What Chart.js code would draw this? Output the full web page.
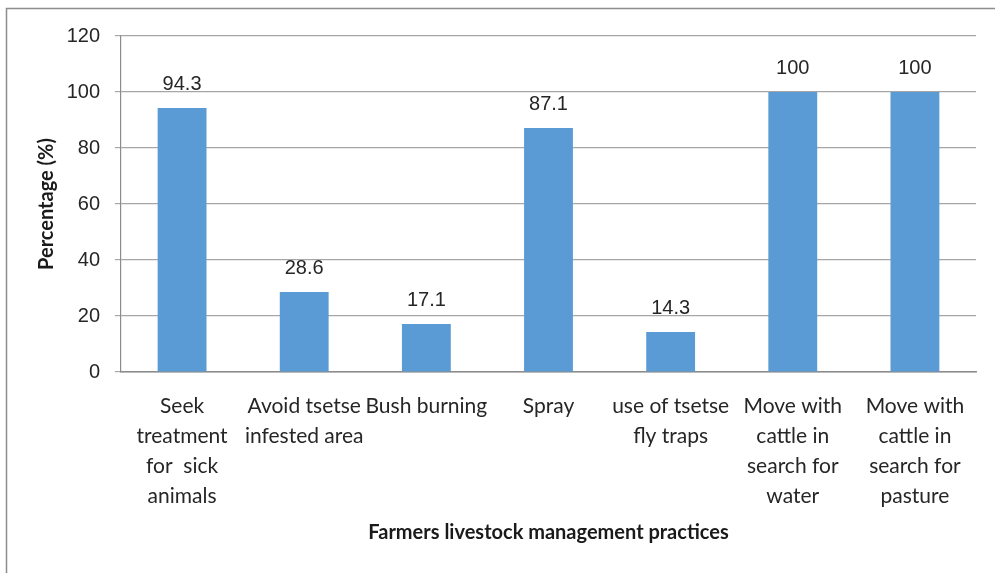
<!DOCTYPE html>
<html lang="en">
<head>
  <meta charset="UTF-8">
  <title>Farmers livestock management practices</title>
  <script src="https://cdn.jsdelivr.net/npm/chart.js"></script>
  <style>
    body { margin: 0; background: #fff; }
    #chart { display: block; }
  </style>
</head>
<body>
  <canvas id="chart" width="995" height="573"></canvas>
  <script>
    const practices = [
      ['Seek', 'treatment', 'for  sick', 'animals'],
      ['Avoid tsetse', 'infested area'],
      ['Bush burning'],
      ['Spray'],
      ['use of tsetse', 'fly traps'],
      ['Move with', 'cattle in', 'search for', 'water'],
      ['Move with', 'cattle in', 'search for', 'pasture']
    ];
    const percentages = [94.3, 28.6, 17.1, 87.1, 14.3, 100, 100];
    const yTicks = [0, 20, 40, 60, 80, 100, 120];

    // outer frame (top + left edge only, like the source image)
    const framePlugin = {
      id: 'frame',
      beforeDraw(chart) {
        const ctx = chart.ctx;
        ctx.save();
        ctx.strokeStyle = '#8c8c8c';
        ctx.lineWidth = 1.5;
        ctx.beginPath();
        ctx.moveTo(6.5, 573);
        ctx.lineTo(6.5, 8.5);
        ctx.lineTo(995, 8.5);
        ctx.stroke();
        ctx.restore();
      }
    };

    // value labels above bars
    const valueLabels = {
      id: 'valueLabels',
      afterDatasetsDraw(chart) {
        const ctx = chart.ctx;
        const meta = chart.getDatasetMeta(0);
        ctx.save();
        ctx.font = '20px "Liberation Sans", Arial, sans-serif';
        ctx.fillStyle = '#262626';
        ctx.textAlign = 'center';
        ctx.textBaseline = 'alphabetic';
        meta.data.forEach((bar, i) => {
          ctx.fillText(String(percentages[i]), bar.x, bar.y - 18);
        });
        ctx.restore();
      }
    };

    new Chart(document.getElementById('chart'), {
      type: 'bar',
      data: {
        labels: practices,
        datasets: [{
          data: percentages,
          backgroundColor: '#5b9bd5',
          borderWidth: 0,
          barPercentage: 0.4,
          categoryPercentage: 1
        }]
      },
      options: {
        responsive: false,
        animation: false,
        layout: { padding: { top: 36, right: 19, bottom: 0, left: 0 } },
        plugins: {
          legend: { display: false },
          tooltip: { enabled: false }
        },
        scales: {
          x: {
            afterFit(scale) { scale.height = 201; },
            grid: { display: false, drawTicks: false },
            border: { display: true, color: '#8c8c8c', width: 1.5 },
            ticks: {
              maxRotation: 0,
              autoSkip: false,
              padding: 19,
              color: '#262626',
              font: { family: 'Lato', size: 21, lineHeight: 1.43 }
            },
            title: {
              display: true,
              text: 'Farmers livestock management practices',
              color: '#1a1a1a',
              font: { family: 'Lato', size: 20, weight: 'bold' },
              padding: { top: 0, bottom: 28 }
            }
          },
          y: {
            min: 0,
            max: 120,
            afterFit(scale) { scale.width = 121; },
            afterBuildTicks(scale) { scale.ticks = yTicks.map(v => ({ value: v })); },
            grid: { color: '#a6a6a6', lineWidth: 1.2, tickLength: 6 },
            border: { display: true, color: '#8c8c8c', width: 1.2 },
            ticks: {
              padding: 15,
              color: '#262626',
              font: { family: 'Liberation Sans', size: 20 }
            },
            title: {
              display: true,
              text: 'Percentage (%)',
              color: '#1a1a1a',
              font: { family: 'Lato', size: 20, weight: 'bold' },
              padding: { top: 35, bottom: 0 }
            }
          }
        }
      },
      plugins: [framePlugin, valueLabels]
    });
  </script>
</body>
</html>
